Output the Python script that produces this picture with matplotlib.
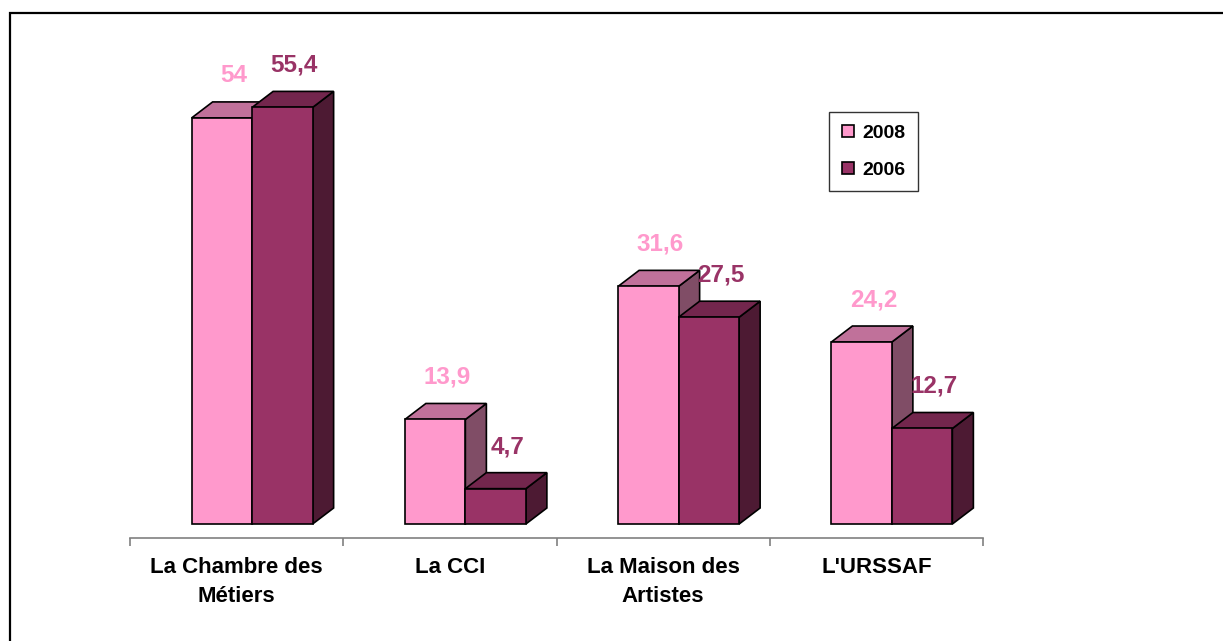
import matplotlib.pyplot as plt
from matplotlib.patches import Polygon, Rectangle
from matplotlib.lines import Line2D

plt.rcParams['font.family'] = ['Liberation Sans', 'DejaVu Sans']

categories = ["La Chambre des\nMétiers", "La CCI", "La Maison des\nArtistes", "L'URSSAF"]
years = ["2008", "2006"]
v2008 = [54, 13.9, 31.6, 24.2]
v2006 = [55.4, 4.7, 27.5, 12.7]

# front / top / side colours for each series
pink = ("#FF99CC", "#C0719A", "#804D66")
plum = ("#993366", "#73264D", "#4D1A33")

W, H = 1223, 641
fig = plt.figure(figsize=(W / 100, H / 100), dpi=100)

# axis geometry in pixels
x_left, x_right = 130, 983
y_axis, ppu = 538, 7.52          # axis line row, pixels per value unit
y_lo, y_hi = -14 / ppu, 60
ax_h = (y_hi - y_lo) * ppu
ax = fig.add_axes([x_left / W, (H - y_axis) / H, (x_right - x_left) / W, ax_h / H])
ax.set_xlim(-0.5, len(categories) - 0.5)
ax.set_ylim(y_lo, y_hi)

xu = (x_right - x_left) / len(categories)   # pixels per category
dx, dy = 21 / xu, 16 / ppu                  # depth offset in data units
bw = 60.5 / xu
off = -45 / xu


def bar3d(x0, h, cols):
    front, top, side = cols
    kw = dict(edgecolor="black", linewidth=1.2, joinstyle="miter")
    ax.add_patch(Polygon([(x0 + bw, 0), (x0 + bw + dx, dy), (x0 + bw + dx, h + dy), (x0 + bw, h)],
                         facecolor=side, **kw))
    ax.add_patch(Polygon([(x0, h), (x0 + dx, h + dy), (x0 + bw + dx, h + dy), (x0 + bw, h)],
                         facecolor=top, **kw))
    ax.add_patch(Rectangle((x0, 0), bw, h, facecolor=front, **kw))


for i in range(len(categories)):
    for j, (vals, cols) in enumerate([(v2008, pink), (v2006, plum)]):
        x0 = i + off + j * bw
        bar3d(x0, vals[i], cols)
        ax.text(x0 + bw / 2 + 12 / xu, vals[i] + dy + 26 / ppu, f"{vals[i]:g}".replace(".", ","),
                ha="center", va="center", fontsize=17.5, fontweight="bold", color=cols[0],
                clip_on=False)

for s in ["top", "right", "left"]:
    ax.spines[s].set_visible(False)
ax.spines["bottom"].set_color("#808080")
ax.spines["bottom"].set_linewidth(1.2)
ax.set_yticks([])
ax.set_xticks([i - 0.5 for i in range(len(categories) + 1)])
ax.set_xticklabels([])
ax.tick_params(axis="x", length=6, width=1.2, color="#808080", direction="out")
ax.patch.set_visible(False)

for i, c in enumerate(categories):
    ax.text(i, y_lo - 19 / ppu, c, ha="center", va="top", fontsize=16, fontweight="bold",
            linespacing=1.5, transform=ax.transData, clip_on=False)

handles = [Line2D([], [], marker="s", linestyle="none", markersize=9, markerfacecolor=c[0],
                  markeredgecolor="black", markeredgewidth=1.2) for c in (pink, plum)]
leg = fig.legend(handles, years, loc="upper left", bbox_to_anchor=(829 / W, 1 - 112 / H),
                 borderaxespad=0, frameon=True, fancybox=False, edgecolor="black",
                 handletextpad=0.4, handlelength=0.7, labelspacing=1.0, borderpad=0.62,
                 prop={"weight": "bold", "size": 14})
leg.get_frame().set_linewidth(1.0)

fig.add_artist(Rectangle((9.5 / W, -0.1), 1.2, 1.1 - 12.5 / H, transform=fig.transFigure,
                         fill=False, edgecolor="black", linewidth=1.6))

fig.savefig("out.png", dpi=100)
